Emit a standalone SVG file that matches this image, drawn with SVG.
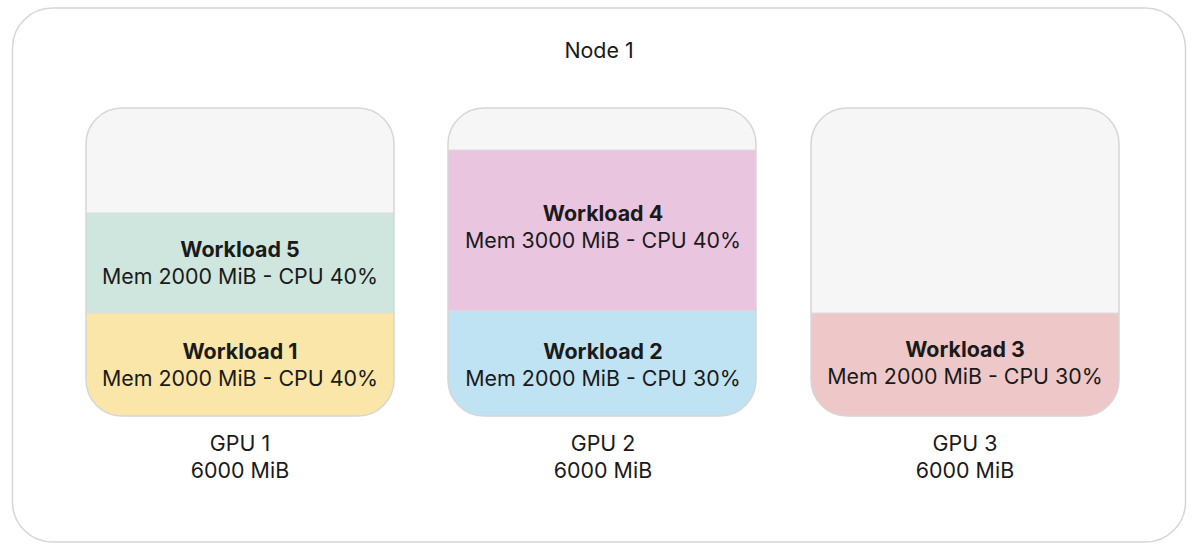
<svg xmlns="http://www.w3.org/2000/svg" width="1200" height="551" viewBox="0 0 1200 551">
<style>
text{font-family:Inter,"Liberation Sans",sans-serif;fill:#1a1a1a;text-anchor:middle;font-size:21.4px}
.b{font-weight:700}
.frame{fill:none;stroke:#d6d6d6;stroke-width:1.5}
.empty{fill:#f6f6f6}
.sep{stroke:#dcdcdc;stroke-width:1}
</style>
<defs>
<clipPath id="c1"><rect x="86" y="108" width="308" height="308" rx="36"/></clipPath>
<clipPath id="c2"><rect x="448" y="108" width="308" height="308" rx="36"/></clipPath>
<clipPath id="c3"><rect x="811" y="108" width="308" height="308" rx="36"/></clipPath>
</defs>
<rect width="1200" height="551" fill="#fff"/>
<g id="node1">
<rect x="12.5" y="8" width="1173" height="534" rx="40" fill="#fff" stroke="#d6d6d6" stroke-width="1.5"/>
<text x="599" y="58">Node 1</text>
</g>
<g id="gpu1">
<g clip-path="url(#c1)">
<rect class="empty" x="86" y="108" width="308" height="105"/>
<rect x="86" y="213" width="308" height="100" fill="#cfe6de"/>
<rect x="86" y="313" width="308" height="103" fill="#fae6a8"/>
<line class="sep" x1="86" y1="213" x2="394" y2="213"/>
<line class="sep" x1="86" y1="313" x2="394" y2="313"/>
</g>
<rect class="frame" x="86" y="108" width="308" height="308" rx="36"/>
<text class="b" x="240" y="257">Workload 5</text>
<text x="240" y="284">Mem 2000 MiB - CPU 40%</text>
<text class="b" x="240" y="359">Workload 1</text>
<text x="240" y="386">Mem 2000 MiB - CPU 40%</text>
<text x="240" y="451">GPU 1</text>
<text x="240" y="478">6000 MiB</text>
</g>
<g id="gpu2">
<g clip-path="url(#c2)">
<rect class="empty" x="448" y="108" width="308" height="42"/>
<rect x="448" y="150" width="308" height="161" fill="#eac5e0"/>
<rect x="448" y="311" width="308" height="105" fill="#c0e3f3"/>
<line class="sep" x1="448" y1="150" x2="756" y2="150"/>
<line class="sep" x1="448" y1="311" x2="756" y2="311"/>
</g>
<rect class="frame" x="448" y="108" width="308" height="308" rx="36"/>
<text class="b" x="603" y="221">Workload 4</text>
<text x="603" y="248">Mem 3000 MiB - CPU 40%</text>
<text class="b" x="603" y="359">Workload 2</text>
<text x="603" y="386">Mem 2000 MiB - CPU 30%</text>
<text x="603" y="451">GPU 2</text>
<text x="603" y="478">6000 MiB</text>
</g>
<g id="gpu3">
<g clip-path="url(#c3)">
<rect class="empty" x="811" y="108" width="308" height="205"/>
<rect x="811" y="313" width="308" height="103" fill="#eec8c8"/>
<line class="sep" x1="811" y1="313" x2="1119" y2="313"/>
</g>
<rect class="frame" x="811" y="108" width="308" height="308" rx="36"/>
<text class="b" x="965" y="357">Workload 3</text>
<text x="965" y="384">Mem 2000 MiB - CPU 30%</text>
<text x="965" y="451">GPU 3</text>
<text x="965" y="478">6000 MiB</text>
</g>
<g id="connectors"/>
</svg>
